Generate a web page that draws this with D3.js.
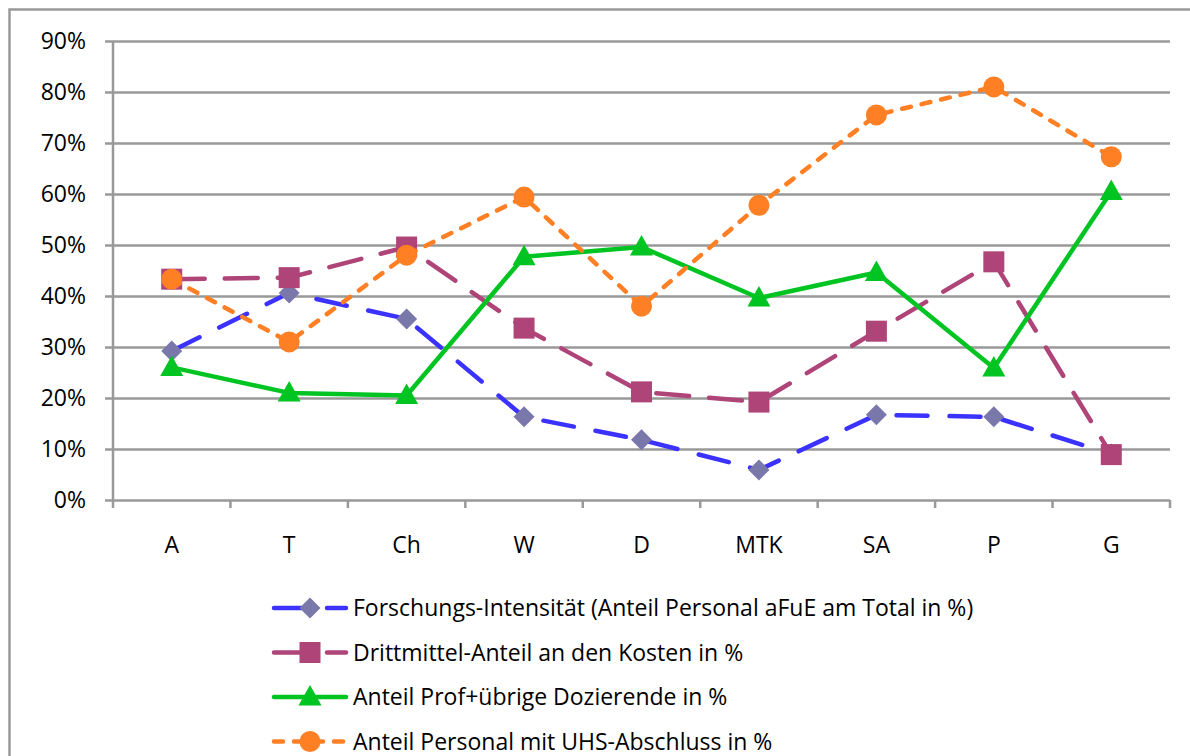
<!DOCTYPE html>
<html>
<head>
<meta charset="utf-8">
<script src="https://cdn.jsdelivr.net/npm/d3@7"></script>
<style>
  html, body { margin: 0; padding: 0; background: #fff; }
  #chart { width: 1190px; height: 756px; }
</style>
</head>
<body>
<div id="chart"></div>
<script>
// Data
const categories = ["A", "T", "Ch", "W", "D", "MTK", "SA", "P", "G"];
const yTicks = [0, 10, 20, 30, 40, 50, 60, 70, 80, 90];

const forschung = [29.2, 40.6, 35.5, 16.3, 11.8, 5.9, 16.7, 16.3, 9.0];
const drittmittel = [43.3, 43.6, 49.6, 33.7, 21.2, 19.2, 33.1, 46.7, 8.9];
const dozierende = [26.0, 21.0, 20.5, 47.7, 49.6, 39.6, 44.6, 25.9, 60.5];
const uhsAbschluss = [43.3, 31.0, 48.0, 59.4, 38.0, 57.8, 75.5, 81.0, 67.3];

const seriesNames = [
    "Forschungs-Intensität (Anteil Personal aFuE am Total in %)",
    "Drittmittel-Anteil an den Kosten in %",
    "Anteil Prof+übrige Dozierende in %",
    "Anteil Personal mit UHS-Abschluss in %"
];

// Config
const width = 1190;
const height = 756;
const plot = { left: 113, right: 1170, top: 41, bottom: 500 };
const fontFamily = "'Open Sans', sans-serif";
const fontSize = "23px";
const gridColor = "#999";

const series = [
    { name: seriesNames[0], values: forschung, line: "#3c32ff", fill: "#7a78aa", dash: "31,22", marker: "diamond" },
    { name: seriesNames[1], values: drittmittel, line: "#ae4478", fill: "#ae4478", dash: "33,20", marker: "square" },
    { name: seriesNames[2], values: dozierende, line: "#00c422", fill: "#00c422", dash: null, marker: "triangle" },
    { name: seriesNames[3], values: uhsAbschluss, line: "#ff7f24", fill: "#ff7f24", dash: "9,11", marker: "circle" }
];

const svg = d3.select("#chart")
    .append("svg")
    .attr("width", width)
    .attr("height", height);

// Outer chart border (runs off the right and bottom edges)
svg.append("rect")
    .attr("x", 9.5)
    .attr("y", 9.5)
    .attr("width", width + 20)
    .attr("height", height + 20)
    .attr("fill", "none")
    .attr("stroke", gridColor)
    .attr("stroke-width", 2.5);

// Scales
const x = d3.scaleBand()
    .domain(categories)
    .range([plot.left, plot.right]);

const y = d3.scaleLinear()
    .domain([0, 90])
    .range([plot.bottom, plot.top]);

const cx = d => x(d) + x.bandwidth() / 2;

// Gridlines + y axis
const yAxis = svg.append("g")
    .attr("transform", `translate(${plot.left},0)`)
    .call(d3.axisLeft(y)
        .tickValues(yTicks)
        .tickSize(8)
        .tickPadding(19)
        .tickFormat(d => d + "%"));

yAxis.select(".domain")
    .attr("stroke", gridColor)
    .attr("stroke-width", 2.5)
    .attr("d", `M0,${plot.top}V${plot.bottom}`);

yAxis.selectAll(".tick line")
    .attr("stroke", gridColor)
    .attr("stroke-width", 2.5)
    .attr("x1", -8)
    .attr("x2", plot.right - plot.left);

yAxis.selectAll(".tick text")
    .attr("fill", "#000")
    .style("font-family", fontFamily)
    .style("font-size", fontSize);

// x axis: ticks at category boundaries
const xAxis = svg.append("g")
    .attr("transform", `translate(0,${plot.bottom})`)
    .call(d3.axisBottom(x).tickSize(0).tickPadding(37));

xAxis.select(".domain").remove();
xAxis.selectAll(".tick text")
    .attr("fill", "#000")
    .style("font-family", fontFamily)
    .style("font-size", fontSize);

const bounds = categories.map(c => x(c)).concat([plot.right]);
svg.append("g")
    .selectAll("line")
    .data(bounds)
    .join("line")
    .attr("x1", d => d)
    .attr("x2", d => d)
    .attr("y1", plot.bottom)
    .attr("y2", plot.bottom + 8)
    .attr("stroke", gridColor)
    .attr("stroke-width", 2.5);

// Marker shapes
function drawMarker(g, type, color) {
    if (type === "diamond") {
        g.append("path").attr("d", "M0,-10.5L10.5,0L0,10.5L-10.5,0Z").attr("fill", color);
    } else if (type === "square") {
        g.append("rect").attr("x", -10.5).attr("y", -10.5).attr("width", 21).attr("height", 21).attr("fill", color);
    } else if (type === "triangle") {
        g.append("path").attr("d", "M0,-12L11.5,8.5L-11.5,8.5Z").attr("fill", color);
    } else {
        g.append("circle").attr("r", 10.5).attr("fill", color);
    }
}

const line = d3.line()
    .x((d, i) => cx(categories[i]))
    .y(d => y(d));

// Lines + markers, one series after another
series.forEach(s => {
    const g = svg.append("g");
    g.append("path")
        .datum(s.values)
        .attr("d", line)
        .attr("fill", "none")
        .attr("stroke", s.line)
        .attr("stroke-width", 4.5)
        .attr("stroke-linecap", "round")
        .attr("stroke-linejoin", "round")
        .attr("stroke-dasharray", s.dash);

    g.selectAll(".pt")
        .data(s.values)
        .join("g")
        .attr("class", "pt")
        .attr("transform", (d, i) => `translate(${cx(categories[i])},${y(d)})`)
        .each(function () { drawMarker(d3.select(this), s.marker, s.fill); });
});

// Legend
const legend = svg.append("g")
    .selectAll("g")
    .data(series)
    .join("g")
    .attr("transform", (d, i) => `translate(0,${608 + i * 44.5})`);

legend.append("line")
    .attr("x1", 274)
    .attr("x2", 346)
    .attr("stroke", d => d.line)
    .attr("stroke-width", 4.5)
    .attr("stroke-linecap", "round")
    .attr("stroke-dasharray", d => d.dash);

legend.each(function (d) {
    const m = d3.select(this).append("g").attr("transform", "translate(310,0)");
    drawMarker(m, d.marker, d.fill);
});

legend.append("text")
    .attr("x", 353)
    .attr("dy", "0.35em")
    .style("font-family", fontFamily)
    .style("font-size", fontSize)
    .text(d => d.name);
</script>
</body>
</html>
